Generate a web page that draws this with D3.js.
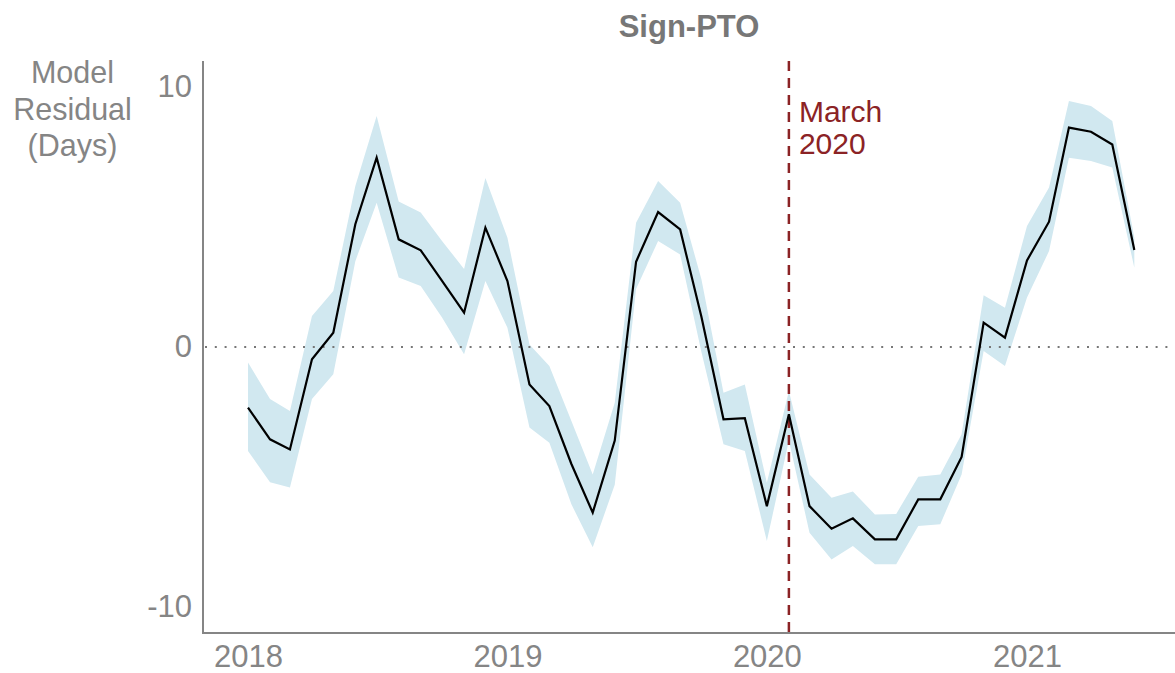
<!DOCTYPE html>
<html>
<head>
<meta charset="utf-8">
<script src="https://cdn.jsdelivr.net/npm/d3@7"></script>
<style>
  html, body { margin: 0; padding: 0; background: #fff; }
  svg { display: block; font-family: "Liberation Sans", Arial, Helvetica, sans-serif; }
</style>
</head>
<body>
<svg id="chart" width="1175" height="673"></svg>
<script>
// Monthly model residuals (days), Jan 2018 – Jun 2021
const startMonth = "2018-01-01";
const residual = [-2.33, -3.55, -3.94, -0.47, 0.55, 4.72, 7.28, 4.14, 3.72, 2.54, 1.32, 4.59,
                  2.54, -1.44, -2.27, -4.5, -6.37, -3.6, 3.28, 5.19, 4.52, 1.15, -2.78, -2.74,
                  -6.12, -2.59, -6.12, -6.99, -6.59, -7.4, -7.4, -5.86, -5.86, -4.23, 0.94, 0.36,
                  3.33, 4.82, 8.44, 8.28, 7.79, 3.73];
const upper = [-0.6, -2.0, -2.46, 1.19, 2.15, 6.19, 8.88, 5.6, 5.17, 4.08, 3.0, 6.5,
               4.2, 0.1, -0.73, -2.85, -4.9, -2.14, 4.78, 6.38, 5.55, 2.6, -1.76, -1.44,
               -5.22, -1.69, -4.9, -5.8, -5.56, -6.44, -6.42, -4.99, -4.9, -3.36, 1.99, 1.51,
               4.65, 6.13, 9.46, 9.27, 8.69, 4.2];
const lower = [-4.0, -5.2, -5.4, -2.0, -1.05, 3.3, 5.55, 2.67, 2.35, 1.13, -0.28, 2.54,
               0.74, -3.1, -3.68, -6.05, -7.7, -5.3, 2.23, 4.08, 3.56, -0.2, -3.74, -4.0,
               -7.46, -3.6, -7.14, -8.17, -7.65, -8.36, -8.36, -6.88, -6.82, -4.9, -0.15, -0.73,
               1.9, 3.69, 7.28, 7.15, 6.9, 3.05];
const yTicks = [-10, 0, 10];
const xTickYears = [2018, 2019, 2020, 2021];
const eventDate = "2020-02-01";
const eventLabel = ["March", "2020"];
const titleText = "Sign-PTO";
const yTitle = ["Model", "Residual", "(Days)"];

const parse = d3.timeParse("%Y-%m-%d");
const t0 = parse(startMonth);
const rows = residual.map((v, i) => ({
  date: d3.timeMonth.offset(t0, i), y: v, hi: upper[i], lo: lower[i]
}));

const svg = d3.select("#chart");
const plot = { left: 203, right: 1175, top: 61, bottom: 633 };

// Time scale anchored on the yearly ticks, then widened to the panel edges
const xBase = d3.scaleTime()
  .domain([new Date(2018, 0, 1), new Date(2021, 0, 1)])
  .range([248, 1027]);
const x = d3.scaleTime()
  .domain([xBase.invert(plot.left), xBase.invert(plot.right)])
  .range([plot.left, plot.right]);
const y = d3.scaleLinear().domain([-11, 11]).range([plot.bottom, plot.top]);

const grey = "#858585";

// Confidence band
svg.append("path")
  .datum(rows)
  .attr("fill", "#d1e8f0")
  .attr("d", d3.area().x(d => x(d.date)).y0(d => y(d.lo)).y1(d => y(d.hi)));

// Zero reference
svg.append("line")
  .attr("x1", plot.left + 2).attr("x2", plot.right)
  .attr("y1", y(0)).attr("y2", y(0))
  .attr("stroke", "#777").attr("stroke-width", 2)
  .attr("stroke-dasharray", "2,7.8");

// Event marker
const ex = x(parse(eventDate));
svg.append("line")
  .attr("x1", ex).attr("x2", ex)
  .attr("y1", plot.top).attr("y2", plot.bottom)
  .attr("stroke", "#8b2325").attr("stroke-width", 2.5)
  .attr("stroke-dasharray", "10,7");
svg.append("text")
  .attr("x", ex + 10).attr("y", 122)
  .attr("fill", "#8b2325").attr("font-size", 30)
  .selectAll("tspan").data(eventLabel).join("tspan")
  .attr("x", ex + 10).attr("dy", (d, i) => i ? 31.5 : 0)
  .text(d => d);

// Residual line
svg.append("path")
  .datum(rows)
  .attr("fill", "none").attr("stroke", "#000").attr("stroke-width", 2.2)
  .attr("stroke-linejoin", "miter")
  .attr("d", d3.line().x(d => x(d.date)).y(d => y(d.y)));

// Axes
const xAxis = svg.append("g")
  .attr("transform", `translate(0,${plot.bottom})`)
  .call(d3.axisBottom(x)
    .tickValues(xTickYears.map(yr => new Date(yr, 0, 1)))
    .tickFormat(d3.timeFormat("%Y"))
    .tickSize(0).tickPadding(12));
xAxis.select(".domain").remove();
xAxis.selectAll("text")
  .attr("font-size", 31).attr("fill", grey).attr("font-family", null);

const yAxis = svg.append("g")
  .attr("transform", `translate(${plot.left},0)`)
  .call(d3.axisLeft(y).tickValues(yTicks).tickFormat(d3.format("d"))
    .tickSize(0).tickPadding(11));
yAxis.select(".domain").remove();
yAxis.selectAll("text")
  .attr("font-size", 31).attr("fill", grey).attr("font-family", null)
  .text(d => d < 0 ? "-" + Math.abs(d) : d);

// Axis lines
svg.append("path")
  .attr("d", `M${plot.left},${plot.top}V${plot.bottom}H${plot.right}`)
  .attr("fill", "none").attr("stroke", grey).attr("stroke-width", 2);

// Y axis title
svg.append("text")
  .attr("text-anchor", "middle").attr("fill", grey).attr("font-size", 30.5)
  .selectAll("tspan").data(yTitle).join("tspan")
  .attr("x", 72.5).attr("y", (d, i) => 83 + i * 36.5)
  .text(d => d);

// Title
svg.append("text")
  .attr("x", (plot.left + plot.right) / 2).attr("y", 37)
  .attr("text-anchor", "middle").attr("font-weight", "bold")
  .attr("font-size", 31).attr("fill", "#777")
  .text(titleText);
</script>
</body>
</html>
